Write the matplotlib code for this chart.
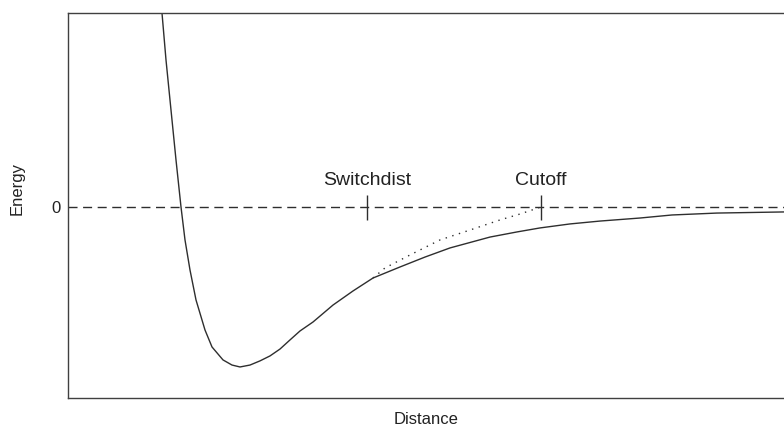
import matplotlib.pyplot as plt

plt.rcParams['font.family'] = ['Liberation Sans', 'DejaVu Sans']

# Pair potential: distance (arbitrary units) vs energy (relative to well depth)
dist = [1.88, 1.96, 2.06, 2.16, 2.26, 2.34, 2.44, 2.56, 2.74, 2.88, 3.10,
        3.28, 3.44, 3.64, 3.84, 4.04, 4.24, 4.44, 4.64, 4.90, 5.30, 5.70,
        6.10, 6.64, 7.14, 7.64, 8.44, 8.98, 9.44, 10.04, 10.64, 11.44,
        12.08, 12.98, 14.32]
energy = [1.212, 0.919, 0.606, 0.294, 0.000, -0.206, -0.394, -0.581,
          -0.769, -0.875, -0.956, -0.988, -1.000, -0.988, -0.962, -0.931,
          -0.888, -0.831, -0.775, -0.719, -0.613, -0.525, -0.444, -0.375,
          -0.313, -0.256, -0.188, -0.156, -0.131, -0.106, -0.088, -0.069,
          -0.050, -0.038, -0.031]

# Switched potential between switchdist and cutoff
sw_dist = [6.10, 6.34, 6.84, 7.44, 8.04, 8.64, 9.04, 9.46]
sw_energy = [-0.444, -0.381, -0.300, -0.206, -0.144, -0.081, -0.044, 0.000]

switchdist = 5.98
cutoff = 9.46
markers = [switchdist, cutoff]
marker_labels = ['Switchdist', 'Cutoff']

ink = '#2e2e2e'
text_col = '#222222'

fig = plt.figure(figsize=(7.84, 4.36), dpi=100)
ax = fig.add_axes([68 / 784, 1 - 398 / 436, 1 - 68 / 784, 385 / 436])

ax.axhline(0, color=ink, lw=1.0, linestyle=(0, (6.5, 4.0)))
ax.plot(dist, energy, color=ink, lw=1.0)
ax.plot(sw_dist, sw_energy, color=ink, lw=1.0, linestyle=(0, (1, 4)))

for x, label in zip(markers, marker_labels):
    ax.plot(x, 0, marker='|', ms=18, mew=1.0, color=ink)
    ax.annotate(label, (x, 0), xytext=(0, 16), textcoords='offset points',
                ha='center', va='baseline', fontsize=14, color=text_col)

ax.set_xlim(0, 14.32)
ax.set_ylim(-1.194, 1.2125)
ax.set_xticks([])
ax.set_yticks([0])
ax.set_yticklabels(['0'])
ax.tick_params(axis='y', length=0, pad=5, labelsize=12, labelcolor=text_col)

ax.set_xlabel('Distance', fontsize=12, color=text_col, labelpad=10)
ax.set_ylabel('Energy', fontsize=12, color=text_col)
ax.yaxis.set_label_coords(-0.060, 0.545)

for side in ['left', 'top', 'bottom']:
    ax.spines[side].set_color('#404040')
    ax.spines[side].set_linewidth(1.0)
ax.spines['right'].set_visible(False)

fig.savefig('out.png', dpi=100)
